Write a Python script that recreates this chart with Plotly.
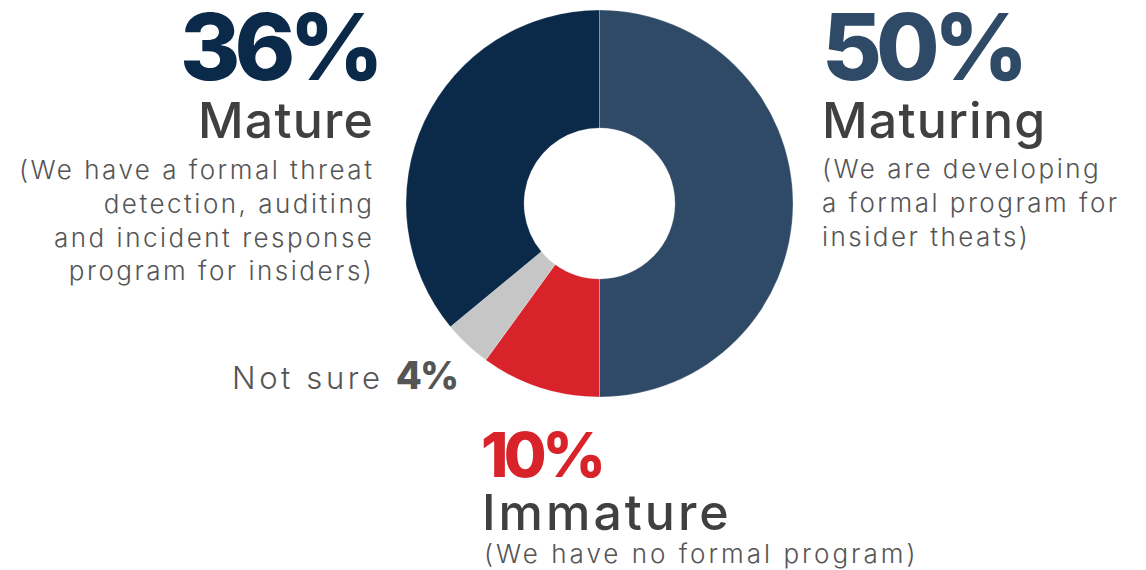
import plotly.graph_objects as go

# Data
labels = ["Maturing", "Immature", "Not sure", "Mature"]
values = [50, 10, 4, 36]
colors = ["#2E4A66", "#D9232A", "#C6C6C6", "#0B2A4A"]
descriptions = {
    "Maturing": ["(We are developing", "a formal program for", "insider theats)"],
    "Immature": ["(We have no formal program)"],
    "Mature": ["(We have a formal threat", "detection, auditing", "and incident response", "program for insiders)"],
}

W, H = 1146, 570
FONT = "Inter"
TITLE_C = "#404040"
DESC_C = "#555555"


def px(x):
    return x / W


def py(y):
    return 1 - y / H


def sp(t, ls):
    return f"<span style='letter-spacing:{ls}px'>{t}</span>"


cx, cy, r = 599.5, 203.5, 193.5

fig = go.Figure(
    go.Pie(
        labels=labels,
        values=values,
        marker=dict(colors=colors, line=dict(color="rgba(255,255,255,0.5)", width=0.5)),
        hole=0.39,
        sort=False,
        direction="clockwise",
        rotation=0,
        textinfo="none",
        hoverinfo="label+percent",
        showlegend=False,
        domain=dict(x=[px(cx - r), px(cx + r)], y=[py(cy + r), py(cy - r)]),
    )
)

v = dict(zip(labels, values))
c = dict(zip(labels, colors))
ann = []


def add(text, x, y, size, color, xanchor, weight=400, ls=0, yanchor="middle"):
    ann.append(
        dict(
            text=text if ls == 0 else "<br>".join(sp(t, ls) for t in text.split("<br>")),
            x=px(x), y=py(y), xref="paper", yref="paper",
            xanchor=xanchor, yanchor=yanchor, showarrow=False,
            align=xanchor,
            font=dict(family=FONT, size=size, color=color, weight=weight),
        )
    )


# Mature (left)
add(f"{v['Mature']}%", 380, 46, 92, c["Mature"], "right", weight=800, ls=-6)
add("Mature", 376, 120, 50, TITLE_C, "right", weight=500, ls=1.2)
add("<br>".join(descriptions["Mature"]), 376, 220, 26, DESC_C, "right", weight=300, ls=2.5)

# Maturing (right)
add(f"{v['Maturing']}%", 820, 46, 92, c["Maturing"], "left", weight=800, ls=-6)
add("Maturing", 820, 120, 50, TITLE_C, "left", weight=500, ls=1.2)
add("<br>".join(descriptions["Maturing"]), 820, 202, 26, DESC_C, "left", weight=300, ls=2.5)

# Not sure
ann.append(
    dict(
        text=sp("Not sure ", 3.6) + f"<span style='font-size:38px;font-weight:800;letter-spacing:-2px'>{v['Not sure']}%</span>",
        x=px(459), y=py(375), xref="paper", yref="paper",
        xanchor="right", yanchor="middle", showarrow=False,
        font=dict(family=FONT, size=31, color=DESC_C, weight=300),
    )
)

# Immature (bottom)
add(f"{v['Immature']}%", 479, 454, 62, c["Immature"], "left", weight=800, ls=-4.5)
add("Immature", 480, 512, 50, TITLE_C, "left", weight=500, ls=3)
add("<br>".join(descriptions["Immature"]), 482, 553, 26, DESC_C, "left", weight=300, ls=3)

fig.update_layout(
    width=W, height=H,
    margin=dict(l=0, r=0, t=0, b=0),
    paper_bgcolor="white", plot_bgcolor="white",
    annotations=ann,
)

fig.write_html(
    "out.html",
    config={"displayModeBar": False},
    post_script="document.body.style.margin='0';",
)
